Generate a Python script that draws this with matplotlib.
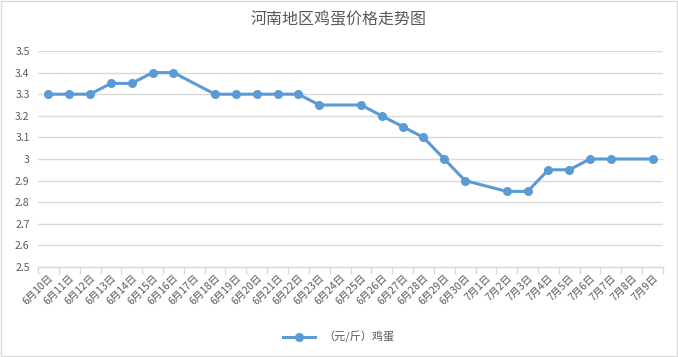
import numpy as np
import matplotlib
matplotlib.use("Agg")
import matplotlib.pyplot as plt
from matplotlib.patches import Rectangle

plt.rcParams['font.family'] = ['Noto Sans CJK SC', 'DejaVu Sans']

dates = [f"6月{d}日" for d in range(10, 31)] + [f"7月{d}日" for d in range(1, 10)]
# nan = no price reported that day (Excel connects across the gap)
prices = [3.30, 3.30, 3.30, 3.35, 3.35, 3.40, 3.40, np.nan, 3.30, 3.30,
          3.30, 3.30, 3.30, 3.25, np.nan, 3.25, 3.20, 3.15, 3.10, 3.00,
          2.90, np.nan, 2.85, 2.85, 2.95, 2.95, 3.00, 3.00, np.nan, 3.00]
yticks = [2.5, 2.6, 2.7, 2.8, 2.9, 3, 3.1, 3.2, 3.3, 3.4, 3.5]
ytick_labels = ["2.5", "2.6", "2.7", "2.8", "2.9", "3", "3.1", "3.2", "3.3", "3.4", "3.5"]
series_name = "（元/斤）鸡蛋"

line_col = "#5B9BD5"
text_col = "#595959"
grid_col = "#D9D9D9"

fig = plt.figure(figsize=(6.78, 3.57), dpi=100)
fig.patches.append(Rectangle((0.001, 0.002), 0.997, 0.995, transform=fig.transFigure,
                             fill=False, edgecolor=grid_col, linewidth=1))
ax = fig.add_axes([38 / 678, 1 - 267 / 357, 625 / 678, 216 / 357])

x = np.arange(len(dates))
y = np.array(prices)
ok = ~np.isnan(y)
ax.plot(x[ok], y[ok], color=line_col, linewidth=2.2, marker="o", markersize=5.5,
        zorder=3, label=series_name)

ax.set_xlim(-0.5, len(dates) - 0.5)
ax.set_ylim(2.5, 3.5)
ax.set_yticks(yticks)
ax.set_yticklabels(ytick_labels)
ax.yaxis.grid(True, color=grid_col, linewidth=1)
ax.set_axisbelow(True)

for s in ["top", "right", "left"]:
    ax.spines[s].set_visible(False)
ax.spines["bottom"].set_color(grid_col)
ax.spines["bottom"].set_linewidth(1)

ax.set_xticks(x)
ax.set_xticklabels(dates, rotation=45, ha="right", rotation_mode="anchor")
ax.set_xticks(np.arange(-0.5, len(dates)), minor=True)
ax.tick_params(axis="x", which="major", length=0, pad=4, labelsize=7.5, labelcolor=text_col)
ax.tick_params(axis="x", which="minor", length=5, color=grid_col, width=1)
ax.tick_params(axis="y", length=0, pad=6, labelsize=7.5, labelcolor=text_col)

fig.text(0.5, 1 - 20 / 357, "河南地区鸡蛋价格走势图", ha="center", va="center",
         fontsize=11.5, color=text_col)

fig.legend(loc="center", bbox_to_anchor=(0.5, 1 - 337 / 357), frameon=False,
           fontsize=8, labelcolor=text_col, handlelength=2.8)

fig.savefig("out.png", dpi=100, facecolor="white")
